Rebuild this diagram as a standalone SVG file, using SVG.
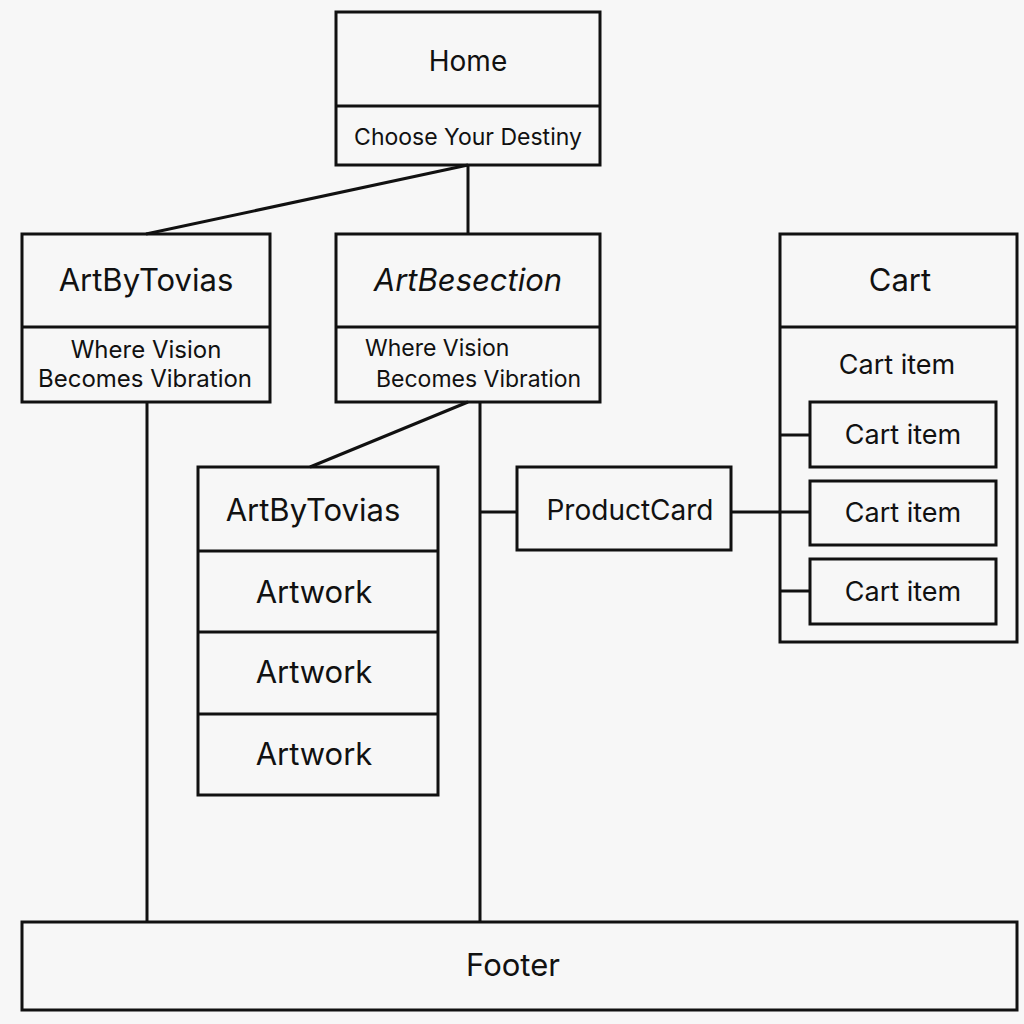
<svg xmlns="http://www.w3.org/2000/svg" width="1024" height="1024" viewBox="0 0 1024 1024">
<style>
.box{fill:none;stroke:#111;stroke-width:3}
.ln{stroke:#111;stroke-width:3;fill:none}
text{font-family:Inter,"Liberation Sans",sans-serif;fill:#111;text-anchor:middle}
.t31{font-size:31px}
.t28{font-size:28px}
.t27{font-size:27px}
.t24{font-size:24px}
.t23{font-size:23px}
.st{text-anchor:start}
</style>
<rect width="1024" height="1024" fill="#f7f7f7"/>
<g id="connectors">
<line class="ln" x1="468" y1="165" x2="146" y2="234"/>
<line class="ln" x1="468" y1="165" x2="468" y2="234"/>
<line class="ln" x1="468" y1="402" x2="310" y2="467"/>
<line class="ln" x1="147" y1="402" x2="147" y2="922"/>
<line class="ln" x1="480" y1="402" x2="480" y2="922"/>
<line class="ln" x1="480" y1="512" x2="517" y2="512"/>
<line class="ln" x1="731" y1="512" x2="810" y2="512"/>
<line class="ln" x1="780" y1="435" x2="810" y2="435"/>
<line class="ln" x1="780" y1="591" x2="810" y2="591"/>
</g>
<g id="home">
<rect class="box" x="336" y="12" width="264" height="153"/>
<line class="ln" x1="336" y1="106" x2="600" y2="106"/>
<text class="t28" x="468" y="71">Home</text>
<text class="t23" x="468" y="145">Choose Your Destiny</text>
</g>
<g id="artbytovias-left">
<rect class="box" x="22" y="234" width="248" height="168"/>
<line class="ln" x1="22" y1="327" x2="270" y2="327"/>
<text class="t31" x="146" y="291">ArtByTovias</text>
<text class="t24" x="146" y="358">Where Vision</text>
<text class="t24" x="145" y="387">Becomes Vibration</text>
</g>
<g id="artbesection">
<rect class="box" x="336" y="234" width="264" height="168"/>
<line class="ln" x1="336" y1="327" x2="600" y2="327"/>
<text class="t31" x="468" y="291" font-style="italic">ArtBesection</text>
<text class="t23 st" x="365" y="356">Where Vision</text>
<text class="t23 st" x="376" y="387">Becomes Vibration</text>
</g>
<g id="artbytovias-list">
<rect class="box" x="198" y="467" width="240" height="328"/>
<line class="ln" x1="198" y1="551" x2="438" y2="551"/>
<line class="ln" x1="198" y1="632" x2="438" y2="632"/>
<line class="ln" x1="198" y1="714" x2="438" y2="714"/>
<text class="t31" x="313" y="521">ArtByTovias</text>
<text class="t31" x="314" y="603">Artwork</text>
<text class="t31" x="314" y="683">Artwork</text>
<text class="t31" x="314" y="765">Artwork</text>
</g>
<g id="productcard">
<rect class="box" x="517" y="467" width="214" height="83"/>
<text class="t28" x="630" y="520">ProductCard</text>
</g>
<g id="cart">
<rect class="box" x="780" y="234" width="237" height="408"/>
<line class="ln" x1="780" y1="327" x2="1017" y2="327"/>
<text class="t31" x="900" y="291">Cart</text>
<text class="t27" x="897" y="374">Cart item</text>
</g>
<g id="cart-item-1">
<rect class="box" x="810" y="402" width="186" height="65"/>
<text class="t27" x="903" y="444">Cart item</text>
</g>
<g id="cart-item-2">
<rect class="box" x="810" y="481" width="186" height="64"/>
<text class="t27" x="903" y="522">Cart item</text>
</g>
<g id="cart-item-3">
<rect class="box" x="810" y="559" width="186" height="65"/>
<text class="t27" x="903" y="601">Cart item</text>
</g>
<g id="footer">
<rect class="box" x="22" y="922" width="995" height="88"/>
<text class="t31" x="513" y="976">Footer</text>
</g>
</svg>
